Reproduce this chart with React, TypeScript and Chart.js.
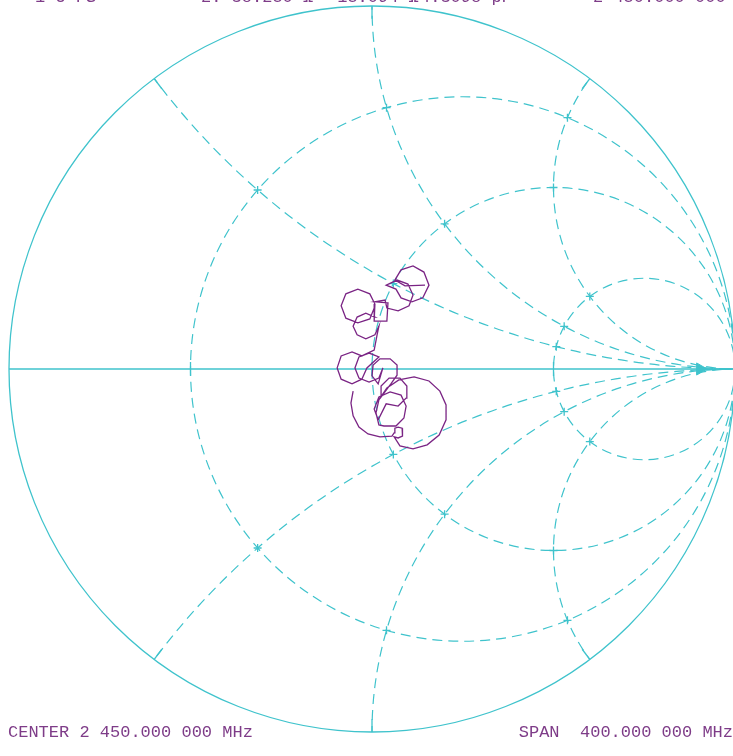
import React, { useEffect, useRef } from "react";
import { Chart, registerables } from "chart.js";

Chart.register(...registerables);

// Smith chart grid values
const resistanceCircles = [1 / 3, 1, 3];
const reactanceArcs = [0.5, 1, 2];

// Header / footer texts
const headerTexts = ["1 U FS", "2: 38.250 \u03A9", "-15.094 \u03A9", "4.3098 pF", "2 450.000 000 MHz"];
const footerLeft = "CENTER 2 450.000 000 MHz";
const footerRight = "SPAN  400.000 000 MHz";

const traceRe = [
  -0.052, -0.058, -0.052, -0.036, -0.011, 0.022, 0.055,
  0.061, 0.063, 0.072, 0.083, 0.085, 0.083, 0.072, 0.061,
  0.077, 0.113, 0.152, 0.185, 0.204, 0.204, 0.187, 0.157, 0.116, 0.074, 0.041, 0.019, 0.011, 0.019,
  0.033, 0.066, 0.088, 0.094, 0.080, 0.050, 0.019, 0.006, 0.017,
  0.039, 0.072, 0.094, 0.096, 0.077, 0.047, 0.025, 0.025,
  0.052, 0.069, 0.069, 0.050, 0.022, 0.003, 0.000, 0.017,
  0.030, 0.019, -0.008, -0.036, -0.047, -0.036, -0.008, 0.019,
  -0.014, -0.028, -0.055, -0.085, -0.096, -0.085, -0.055, -0.028,
  0.006, 0.014,
  0.019, 0.008, -0.017, -0.041, -0.052, -0.041, -0.017, 0.008,
  0.006, -0.006, -0.039, -0.072, -0.085, -0.072, -0.039, -0.006, 0.008,
  0.006, 0.041, 0.044, 0.008,
  0.036, 0.041, 0.072, 0.102, 0.113, 0.099, 0.069, 0.039,
  0.066, 0.080, 0.110, 0.140, 0.157, 0.143, 0.113, 0.080, 0.063, 0.091, 0.146,
];
const traceIm = [
  -0.061, -0.094, -0.129, -0.160, -0.179, -0.187, -0.185,
  -0.176, -0.163, -0.160, -0.163, -0.174, -0.185, -0.190, -0.187,
  -0.212, -0.220, -0.209, -0.182, -0.140, -0.099, -0.061, -0.033, -0.022, -0.030, -0.052, -0.085, -0.121, -0.154,
  -0.157, -0.157, -0.135, -0.102, -0.072, -0.063, -0.077, -0.110, -0.140,
  -0.096, -0.102, -0.080, -0.047, -0.025, -0.025, -0.047, -0.077,
  -0.041, -0.017, 0.011, 0.028, 0.028, 0.011, -0.019, -0.041,
  0.003, -0.025, -0.036, -0.025, 0.003, 0.033, 0.044, 0.033,
  0.003, -0.028, -0.041, -0.028, 0.003, 0.036, 0.047, 0.036,
  0.052, 0.094,
  0.118, 0.094, 0.083, 0.094, 0.118, 0.143, 0.154, 0.143,
  0.168, 0.138, 0.127, 0.140, 0.174, 0.207, 0.220, 0.207, 0.179,
  0.132, 0.132, 0.182, 0.185,
  0.190, 0.168, 0.160, 0.174, 0.204, 0.234, 0.245, 0.231,
  0.220, 0.196, 0.185, 0.196, 0.231, 0.267, 0.284, 0.273, 0.245, 0.229, 0.231,
];

// Reference marker position on the real axis
const markerRe = [0.904];
const markerIm = [0];

const GRID = "#3fc3cc";
const TRACE = "#7a2484";
const TEXT = "#7e3c88";

const smithPlugin = {
  id: "smithGrid",
  beforeDatasetsDraw(chart: any) {
    const { ctx } = chart;
    const xs = chart.scales.x;
    const ys = chart.scales.y;
    const px = (v: number) => xs.getPixelForValue(v);
    const py = (v: number) => ys.getPixelForValue(v);
    const rad = (v: number) => px(v) - px(0);
    const cx = px(0);
    const cy = py(0);
    const R = rad(1);

    ctx.save();
    ctx.strokeStyle = GRID;
    ctx.lineWidth = 1.3;
    ctx.setLineDash([]);
    // outer circle
    ctx.beginPath();
    ctx.arc(cx, cy, R, 0, Math.PI * 2);
    ctx.stroke();
    // real axis
    ctx.beginPath();
    ctx.moveTo(px(-1), cy);
    ctx.lineTo(chart.width, cy);
    ctx.stroke();

    // clip to unit circle for arcs
    ctx.save();
    ctx.beginPath();
    ctx.arc(cx, cy, R, 0, Math.PI * 2);
    ctx.clip();
    ctx.setLineDash([10, 6]);
    ctx.lineWidth = 1.2;
    resistanceCircles.forEach((r) => {
      ctx.beginPath();
      ctx.arc(px(r / (r + 1)), cy, rad(1 / (r + 1)), 0, Math.PI * 2);
      ctx.stroke();
    });
    reactanceArcs.forEach((x) => {
      [x, -x].forEach((xx) => {
        ctx.beginPath();
        ctx.arc(px(1), py(1 / xx), rad(1 / Math.abs(xx)), 0, Math.PI * 2);
        ctx.stroke();
      });
    });
    ctx.restore();

    // solid ticks
    ctx.setLineDash([]);
    ctx.lineWidth = 1.3;
    ctx.strokeStyle = GRID;
    resistanceCircles.forEach((r) => {
      const g = (r - 1) / (r + 1);
      ctx.beginPath();
      ctx.moveTo(px(g), cy - 7);
      ctx.lineTo(px(g), cy + 7);
      ctx.stroke();
    });
    reactanceArcs.forEach((x) => {
      [x, -x].forEach((xx) => {
        const gr = (xx * xx - 1) / (xx * xx + 1);
        const gi = (2 * xx) / (xx * xx + 1);
        const ex = px(gr);
        const ey = py(gi);
        ctx.beginPath();
        ctx.moveTo(ex, ey);
        ctx.lineTo(ex + (cx - ex) * 0.035, ey + (cy - ey) * 0.035);
        ctx.stroke();
      });
    });
    // intersection crosses
    resistanceCircles.forEach((r) => {
      reactanceArcs.forEach((x) => {
        [x, -x].forEach((xx) => {
          const nr = r - 1, ni = xx, dr = r + 1, di = xx;
          const den = dr * dr + di * di;
          const gr = (nr * dr + ni * di) / den;
          const gi = (ni * dr - nr * di) / den;
          const ix = px(gr);
          const iy = py(gi);
          ctx.beginPath();
          ctx.moveTo(ix - 4, iy);
          ctx.lineTo(ix + 4, iy);
          ctx.moveTo(ix, iy - 4);
          ctx.lineTo(ix, iy + 4);
          ctx.stroke();
        });
      });
    });
    ctx.restore();
  },
  afterDraw(chart: any) {
    const { ctx } = chart;
    ctx.save();
    ctx.fillStyle = TEXT;
    ctx.font = '17px "Liberation Mono", "DejaVu Sans Mono", monospace';
    ctx.textBaseline = "alphabetic";
    const hx = [35, 201, 327, 420, 593];
    headerTexts.forEach((t, i) => {
      ctx.textAlign = "left";
      ctx.fillText(t, hx[i], 1.5);
    });
    ctx.textAlign = "left";
    ctx.fillText(footerLeft, 8, 737);
    ctx.textAlign = "right";
    ctx.fillText(footerRight, 733, 737);
    ctx.restore();
  },
};

export default function App() {
  const ref = useRef<HTMLCanvasElement | null>(null);
  useEffect(() => {
    document.body.style.margin = "0";
    document.body.style.overflow = "hidden";
    const canvas = ref.current;
    if (!canvas) return;
    const trace = traceRe.map((re, i) => ({ x: re, y: traceIm[i] }));
    const marker = markerRe.map((re, i) => ({ x: re, y: markerIm[i] }));
    const chart = new Chart(canvas, {
      type: "scatter",
      data: {
        datasets: [
          {
            data: trace,
            showLine: true,
            borderColor: TRACE,
            borderWidth: 1.3,
            pointRadius: 0,
            tension: 0,
          },
          {
            data: marker,
            pointStyle: "triangle",
            rotation: 90,
            pointRadius: 7,
            backgroundColor: GRID,
            borderColor: GRID,
            showLine: false,
          },
        ],
      },
      options: {
        animation: false,
        responsive: false,
        devicePixelRatio: 1,
        layout: { padding: 0, autoPadding: false },
        plugins: { legend: { display: false }, tooltip: { enabled: false } },
        scales: {
          x: { type: "linear", min: -1.0248, max: 0.9945, display: false },
          y: { type: "linear", min: -1.0661, max: 1.0165, display: false },
        },
      },
      plugins: [smithPlugin],
    });
    return () => chart.destroy();
  }, []);
  return (
    <div style={{ width: 733, height: 756, background: "#fff" }}>
      <canvas ref={ref} width={733} height={756} style={{ display: "block" }} />
    </div>
  );
}
